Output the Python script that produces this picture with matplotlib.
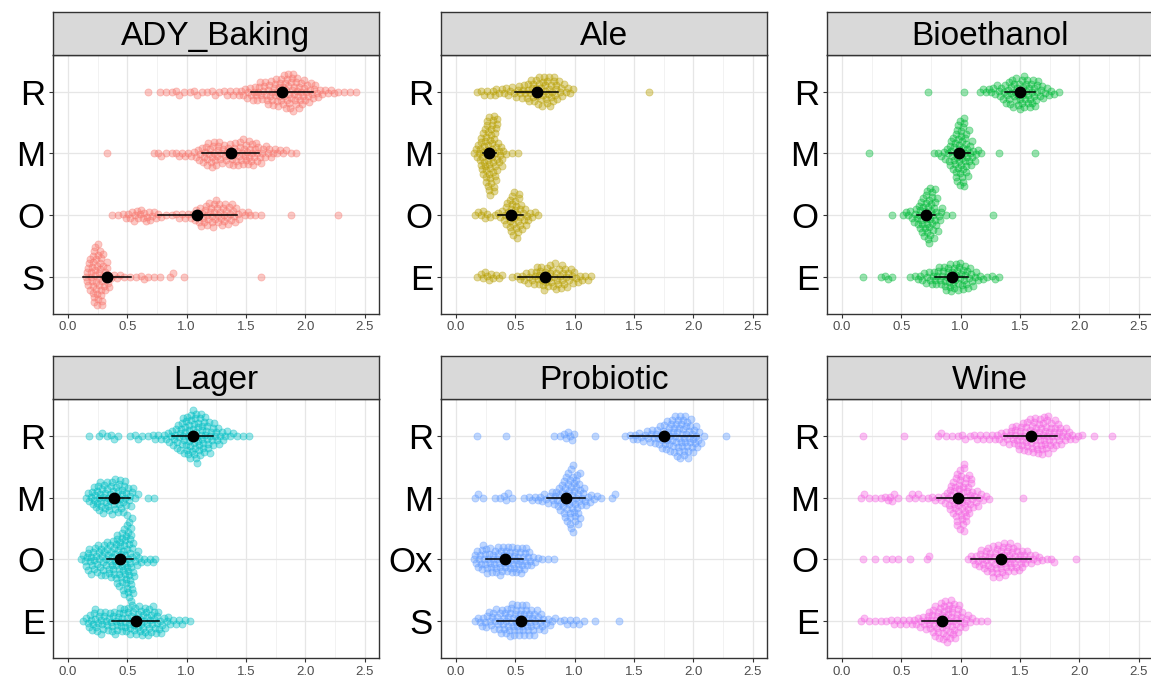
import numpy as np
import matplotlib.pyplot as plt
from matplotlib.ticker import MultipleLocator

plt.rcParams['font.family'] = ['Liberation Sans', 'DejaVu Sans']

# bin width (units) of the count lists below; each list starts at *_start
BIN = 0.05

panels = ['ADY_Baking', 'Ale', 'Bioethanol', 'Lager', 'Probiotic', 'Wine']
colors = ['#F8766D', '#B79F00', '#00BA38', '#00BFC4', '#619CFF', '#F564E3']

# ---- ADY_Baking (groups listed top to bottom)
ady_groups = ['R', 'M', 'O', 'S']
ady_start = [0.65, 0.30, 0.35, 0.15]
ady_counts = [
    [1, 0, 1, 1, 1, 2, 1, 1, 2, 1, 1, 2, 1, 2, 2, 2, 3, 4, 5, 6, 7, 8, 9, 10, 11, 10, 8, 6, 5, 3, 2, 2, 1, 1, 1, 1],
    [1, 0, 0, 0, 0, 0, 0, 0, 1, 2, 1, 1, 2, 2, 2, 3, 5, 7, 8, 7, 6, 7, 7, 8, 8, 7, 5, 4, 3, 2, 2, 1, 1],
    [1, 1, 2, 3, 4, 4, 4, 3, 2, 1, 1, 2, 2, 2, 4, 6, 7, 8, 7, 7, 6, 4, 2, 2, 1, 1, 0, 0, 0, 0, 1, 0, 0, 0, 0, 0, 0, 0, 1],
    [10, 18, 18, 9, 2, 2, 1, 1, 1, 2, 1, 1, 1, 0, 2, 0, 1, 0, 0, 0, 0, 0, 0, 0, 0, 0, 0, 0, 0, 1],
]
ady_mean = [1.80, 1.37, 1.09, 0.33]
ady_sd = [0.26, 0.24, 0.33, 0.20]

# ---- Ale
ale_groups = ['R', 'M', 'O', 'E']
ale_start = [0.15, 0.15, 0.15, 0.15]
ale_counts = [
    [1, 2, 2, 3, 2, 3, 3, 4, 5, 7, 8, 9, 9, 8, 5, 3, 2, 0, 0, 0, 0, 0, 0, 0, 0, 0, 0, 0, 0, 1],
    [5, 15, 24, 22, 8, 1, 1, 1],
    [2, 3, 2, 1, 3, 7, 14, 12, 6, 3, 2],
    [1, 3, 3, 2, 2, 0, 1, 2, 3, 4, 6, 7, 7, 7, 7, 6, 5, 3, 2, 2],
]
ale_mean = [0.68, 0.28, 0.46, 0.75]
ale_sd = [0.18, 0.055, 0.105, 0.23]

# ---- Bioethanol
bio_groups = ['R', 'M', 'O', 'E']
bio_start = [0.70, 0.20, 0.40, 0.15]
bio_counts = [
    [1, 0, 0, 0, 0, 0, 1, 0, 0, 2, 2, 3, 4, 6, 8, 9, 10, 9, 8, 5, 3, 2, 1],
    [1, 0, 0, 0, 0, 0, 0, 0, 0, 0, 0, 1, 2, 4, 10, 19, 20, 10, 4, 1, 0, 0, 1, 0, 0, 0, 0, 0, 1],
    [1, 0, 2, 3, 6, 12, 17, 14, 5, 1, 1, 0, 0, 0, 0, 0, 0, 1],
    [1, 0, 0, 1, 2, 1, 0, 0, 1, 2, 3, 4, 5, 6, 8, 9, 9, 8, 6, 4, 2, 1, 2, 1],
]
bio_mean = [1.50, 0.99, 0.71, 0.925]
bio_sd = [0.13, 0.085, 0.075, 0.14]

# ---- Lager
lag_groups = ['R', 'M', 'O', 'E']
lag_start = [0.15, 0.15, 0.10, 0.10]
lag_counts = [
    [1, 0, 2, 1, 2, 1, 0, 1, 2, 1, 1, 2, 2, 3, 5, 8, 11, 14, 15, 13, 10, 7, 5, 3, 2, 1, 1, 1],
    [4, 8, 10, 9, 10, 10, 10, 6, 2, 0, 1, 1],
    [3, 8, 8, 9, 10, 12, 16, 21, 25, 6, 2, 2, 2],
    [1, 5, 7, 7, 6, 7, 8, 8, 9, 9, 9, 9, 8, 6, 4, 2, 2, 2, 1],
]
lag_mean = [1.05, 0.39, 0.44, 0.57]
lag_sd = [0.17, 0.13, 0.11, 0.195]

# ---- Probiotic
pro_groups = ['R', 'M', 'Ox', 'S']
pro_start = [0.15, 0.15, 0.15, 0.15]
pro_counts = [
    [1, 0, 0, 0, 0, 1, 0, 0, 0, 0, 0, 0, 0, 1, 1, 3, 3, 0, 0, 0, 1, 0, 0, 0, 0, 1, 2, 3, 3, 4, 5, 7, 9, 11, 13, 13, 11, 7, 2, 0, 0, 0, 1],
    [2, 1, 0, 1, 1, 3, 1, 0, 1, 2, 2, 3, 3, 5, 8, 14, 19, 15, 6, 3, 2, 1, 0, 2],
    [6, 8, 8, 8, 9, 9, 9, 9, 8, 5, 2, 1, 1, 1],
    [2, 4, 5, 6, 7, 9, 10, 10, 10, 9, 7, 5, 3, 2, 1, 2, 2, 2, 1, 0, 1, 0, 0, 0, 1],
]
pro_mean = [1.756, 0.925, 0.41, 0.55]
pro_sd = [0.29, 0.16, 0.155, 0.20]

# ---- Wine
win_groups = ['R', 'M', 'O', 'E']
win_start = [0.15, 0.15, 0.15, 0.15]
win_counts = [
    [1, 0, 0, 0, 0, 0, 0, 1, 0, 0, 0, 0, 0, 2, 1, 1, 1, 2, 1, 2, 2, 2, 2, 3, 4, 6, 7, 9, 10, 11, 12, 11, 9, 7, 5, 3, 2, 1, 0, 1, 0, 0, 1],
    [2, 1, 1, 1, 2, 3, 1, 0, 2, 2, 1, 1, 2, 2, 4, 10, 17, 19, 12, 5, 3, 2, 0, 0, 0, 0, 0, 1],
    [1, 0, 1, 0, 1, 1, 1, 0, 1, 0, 0, 2, 0, 0, 0, 0, 0, 0, 2, 4, 6, 8, 9, 10, 10, 9, 8, 6, 4, 3, 2, 1, 2, 0, 0, 0, 1],
    [2, 1, 1, 1, 1, 2, 2, 2, 2, 3, 4, 6, 9, 11, 13, 12, 9, 5, 3, 1, 1, 1],
]
win_mean = [1.59, 0.98, 1.34, 0.84]
win_sd = [0.225, 0.18, 0.255, 0.165]

groups = [ady_groups, ale_groups, bio_groups, lag_groups, pro_groups, win_groups]
starts = [ady_start, ale_start, bio_start, lag_start, pro_start, win_start]
counts = [ady_counts, ale_counts, bio_counts, lag_counts, pro_counts, win_counts]
means = [ady_mean, ale_mean, bio_mean, lag_mean, pro_mean, win_mean]
sds = [ady_sd, ale_sd, bio_sd, lag_sd, pro_sd, win_sd]


def expand(start, cnt):
    # place the points of each bin evenly inside that bin
    vals = []
    for i, c in enumerate(cnt):
        lo = start + i * BIN
        for k in range(c):
            vals.append(lo + (k + 0.5) / c * BIN)
    return np.array(vals)


def swarm(xpx, s):
    # simple beeswarm: each point goes to the free spot closest to the centre line
    order = np.argsort(xpx)
    px, py = [], []
    ys = np.zeros(len(xpx))
    for i in order:
        x = xpx[i]
        y = 0.0
        if px:
            ax_ = np.array(px)
            ay_ = np.array(py)
            near = np.abs(ax_ - x) < s
            if near.any():
                nx = ax_[near]
                ny = ay_[near]
                dy = np.sqrt(s * s - (nx - x) ** 2)
                cands = np.concatenate([[0.0], ny + dy, ny - dy])
                cands = cands[np.argsort(np.abs(cands), kind='stable')]
                for c in cands:
                    if np.all((nx - x) ** 2 + (ny - c) ** 2 >= s * s - 1e-6):
                        y = c
                        break
        px.append(x)
        py.append(y)
        ys[i] = y
    return ys


W, H = 1151, 679
fig = plt.figure(figsize=(W / 100, H / 100), dpi=100)

col_lr = [(52.5, 379), (440.5, 767), (826.5, 1153)]
row_tb = [(11.5, 55, 313.5), (355.5, 399, 658)]
xlim = (-0.13, 2.62)
ylim = (0.4, 4.6)
spacing = 4.5  # px between point centres in the swarm

for p, name in enumerate(panels):
    r, c = divmod(p, 3)
    left, right = col_lr[c]
    s_top, top, bottom = row_tb[r]
    ax = fig.add_axes([left / W, 1 - bottom / H, (right - left) / W, (bottom - top) / H])
    sax = fig.add_axes([left / W, 1 - top / H, (right - left) / W, (top - s_top) / H])

    xppu = (right - left) / (xlim[1] - xlim[0])
    yppu = (bottom - top) / (ylim[1] - ylim[0])
    col = colors[p]
    n = len(groups[p])
    for g in range(n):
        ypos = n - g
        vals = expand(starts[p][g], counts[p][g])
        off = swarm(vals * xppu, spacing) / yppu
        ax.scatter(vals, ypos + off, s=26, color=col, alpha=0.4,
                   edgecolors=col, linewidths=0.6, zorder=3)
        m, sd = means[p][g], sds[p][g]
        ax.plot([m - sd, m + sd], [ypos, ypos], color='black', lw=1.1, zorder=4)
        ax.plot([m], [ypos], 'o', color='black', ms=7.5, zorder=5)

    ax.set_xlim(*xlim)
    ax.set_ylim(*ylim)
    ax.set_yticks(range(1, n + 1))
    ax.set_yticklabels(groups[p][::-1], fontsize=25, color='black')
    ax.xaxis.set_minor_locator(MultipleLocator(0.25))
    ax.set_xticks(np.arange(0, 2.51, 0.5))
    ax.set_xticklabels(['0.0', '0.5', '1.0', '1.5', '2.0', '2.5'], fontsize=9.5, color='#4D4D4D')
    ax.grid(True, which='major', color='#E6E6E6', lw=0.9, zorder=0)
    ax.grid(True, which='minor', axis='x', color='#F0F0F0', lw=0.6, zorder=0)
    ax.set_axisbelow(True)
    ax.tick_params(axis='both', which='major', length=3, width=0.8, color='#333333', pad=2.5)
    ax.tick_params(axis='x', which='minor', length=0)
    for sp in ax.spines.values():
        sp.set_color('#333333')
        sp.set_linewidth(1.0)

    sax.set_facecolor('#D9D9D9')
    sax.set_xticks([])
    sax.set_yticks([])
    for sp in sax.spines.values():
        sp.set_color('#333333')
        sp.set_linewidth(1.0)
    sax.text(0.5, 0.42, name, ha='center', va='center', fontsize=24,
             color='black', transform=sax.transAxes)

fig.savefig('out.png', dpi=100)
